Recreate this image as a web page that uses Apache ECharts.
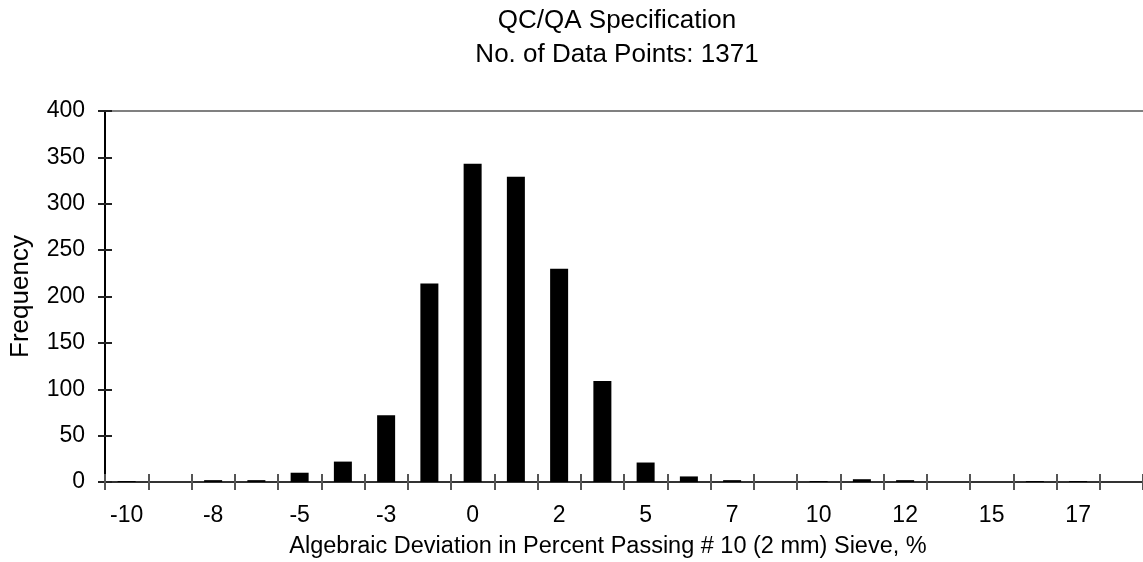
<!DOCTYPE html>
<html>
<head>
<meta charset="utf-8">
<script src="https://cdn.jsdelivr.net/npm/echarts@6/dist/echarts.min.js"></script>
<style>
html,body{margin:0;padding:0;background:#fff;}
#chart{width:1143px;height:562px;}
</style>
</head>
<body>
<div id="chart"></div>
<script>
// Bin labels (every other one is shown on the axis)
var categories = ['-10','-9','-8','-6','-5','-4','-3','-1','0','1','2','4','5','6','7','9','10','11','12','14','15','16','17','19'];
var frequency = [1,0,2,2,10,22,72,214,343,329,230,109,21,6,2,0,1,3,2,0,0,1,1,0];
var yTicks = {min:0, max:400, interval:50};
var titleText = 'QC/QA Specification\nNo. of Data Points: 1371';
var xTitle = 'Algebraic Deviation in Percent Passing # 10 (2 mm) Sieve, %';
var yTitle = 'Frequency';

var FONT = '"Liberation Sans", Arial, sans-serif';
var chart = echarts.init(document.getElementById('chart'), null, {renderer:'canvas'});
chart.setOption({
  animation:false,
  backgroundColor:'#fff',
  title:[
    {text:titleText, left:612, top:-1, textAlign:'center',
     textStyle:{fontFamily:FONT, fontSize:26, fontWeight:'normal', color:'#000', lineHeight:34}},
    {text:xTitle, left:603, top:530, textAlign:'center',
     textStyle:{fontFamily:FONT, fontSize:23.5, fontWeight:'normal', color:'#000'}}
  ],
  grid:{left:102, top:111, bottom:80, right:-7, containLabel:false},
  xAxis:[
    {type:'category', data:categories, position:'bottom', offset:0,
     axisLine:{onZero:false, lineStyle:{color:'#333', width:2}},
     axisTick:{show:true, interval:0, alignWithLabel:false, length:8, lineStyle:{color:'#555', width:2}},
     axisLabel:{interval:1, margin:22, fontFamily:FONT, fontSize:23, color:'#000'},
     splitLine:{show:false}},
    {type:'category', data:categories, position:'bottom', offset:0,
     axisLine:{show:true, onZero:false, lineStyle:{color:'#333', width:2}},
     axisTick:{show:true, inside:true, interval:0, length:8, lineStyle:{color:'#555', width:2}},
     axisLabel:{show:false}, splitLine:{show:false}},
    {type:'category', data:categories, position:'top', offset:0,
     axisLine:{show:true, onZero:false, lineStyle:{color:'#808080', width:2}},
     axisTick:{show:false}, axisLabel:{show:false}, splitLine:{show:false}}
  ],
  yAxis:[
    {type:'value', min:yTicks.min, max:yTicks.max, interval:yTicks.interval, position:'left', offset:0,
     name:yTitle, nameLocation:'middle', nameGap:71, nameRotate:90,
     nameTextStyle:{fontFamily:FONT, fontSize:26, color:'#000'},
     axisLine:{show:true, onZero:false, lineStyle:{color:'#000', width:2}},
     axisTick:{show:true, length:7, lineStyle:{color:'#222', width:2}},
     axisLabel:{margin:20, fontFamily:FONT, fontSize:23, color:'#000'},
     splitLine:{show:false}},
    {type:'value', min:yTicks.min, max:yTicks.max, interval:yTicks.interval, position:'left', offset:0,
     axisLine:{show:true, onZero:false, lineStyle:{color:'#000', width:2}},
     axisTick:{show:true, inside:true, length:7, lineStyle:{color:'#222', width:2}},
     axisLabel:{show:false}, splitLine:{show:false}}
  ],
  series:[
    {type:'bar', xAxisIndex:0, yAxisIndex:0, data:frequency, barWidth:18,
     itemStyle:{color:'#000'}}
  ]
});
</script>
</body>
</html>
